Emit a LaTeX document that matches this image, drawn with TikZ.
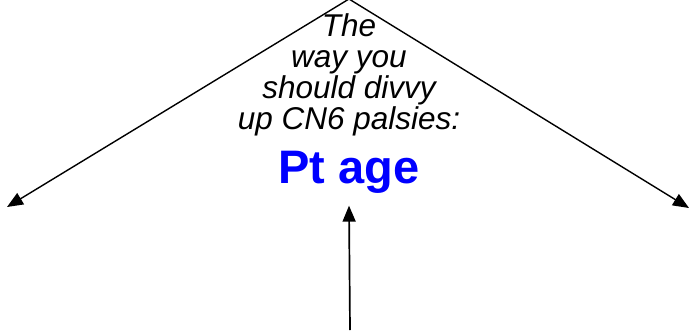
\documentclass[tikz,border=0pt]{standalone}
\usepackage{fontspec}
\setmainfont{Liberation Sans}
\usetikzlibrary{arrows.meta}
\begin{document}
\begin{tikzpicture}[x=1pt,y=-1pt,>={Triangle[length=16pt,width=13pt]},
  arr/.style={->,line width=1.4pt}]
  \useasboundingbox (0,0) rectangle (691,335);
  \coordinate (top) at (349,-1);
  \coordinate (lft) at (7,207);
  \coordinate (rgt) at (689,208);
  \coordinate (bot) at (350,330);
  % base of a multi-line node sits on its last line
  \node[align=center,inner sep=0pt,anchor=base,font=\fontsize{31.5}{31}\selectfont\itshape] (q) at (349,129) {The\\way you\\should divvy\\up CN6 palsies:};
  \node[inner xsep=0pt,inner ysep=12.5pt,anchor=base,text=blue,font=\fontsize{47}{47}\selectfont\bfseries] (age) at (349,183) {Pt age};
  \draw[arr] (top) -- (lft);
  \draw[arr] (top) -- (rgt);
  \draw[arr,line width=1.7pt] (bot) -- (age.south);
\end{tikzpicture}
\end{document}
